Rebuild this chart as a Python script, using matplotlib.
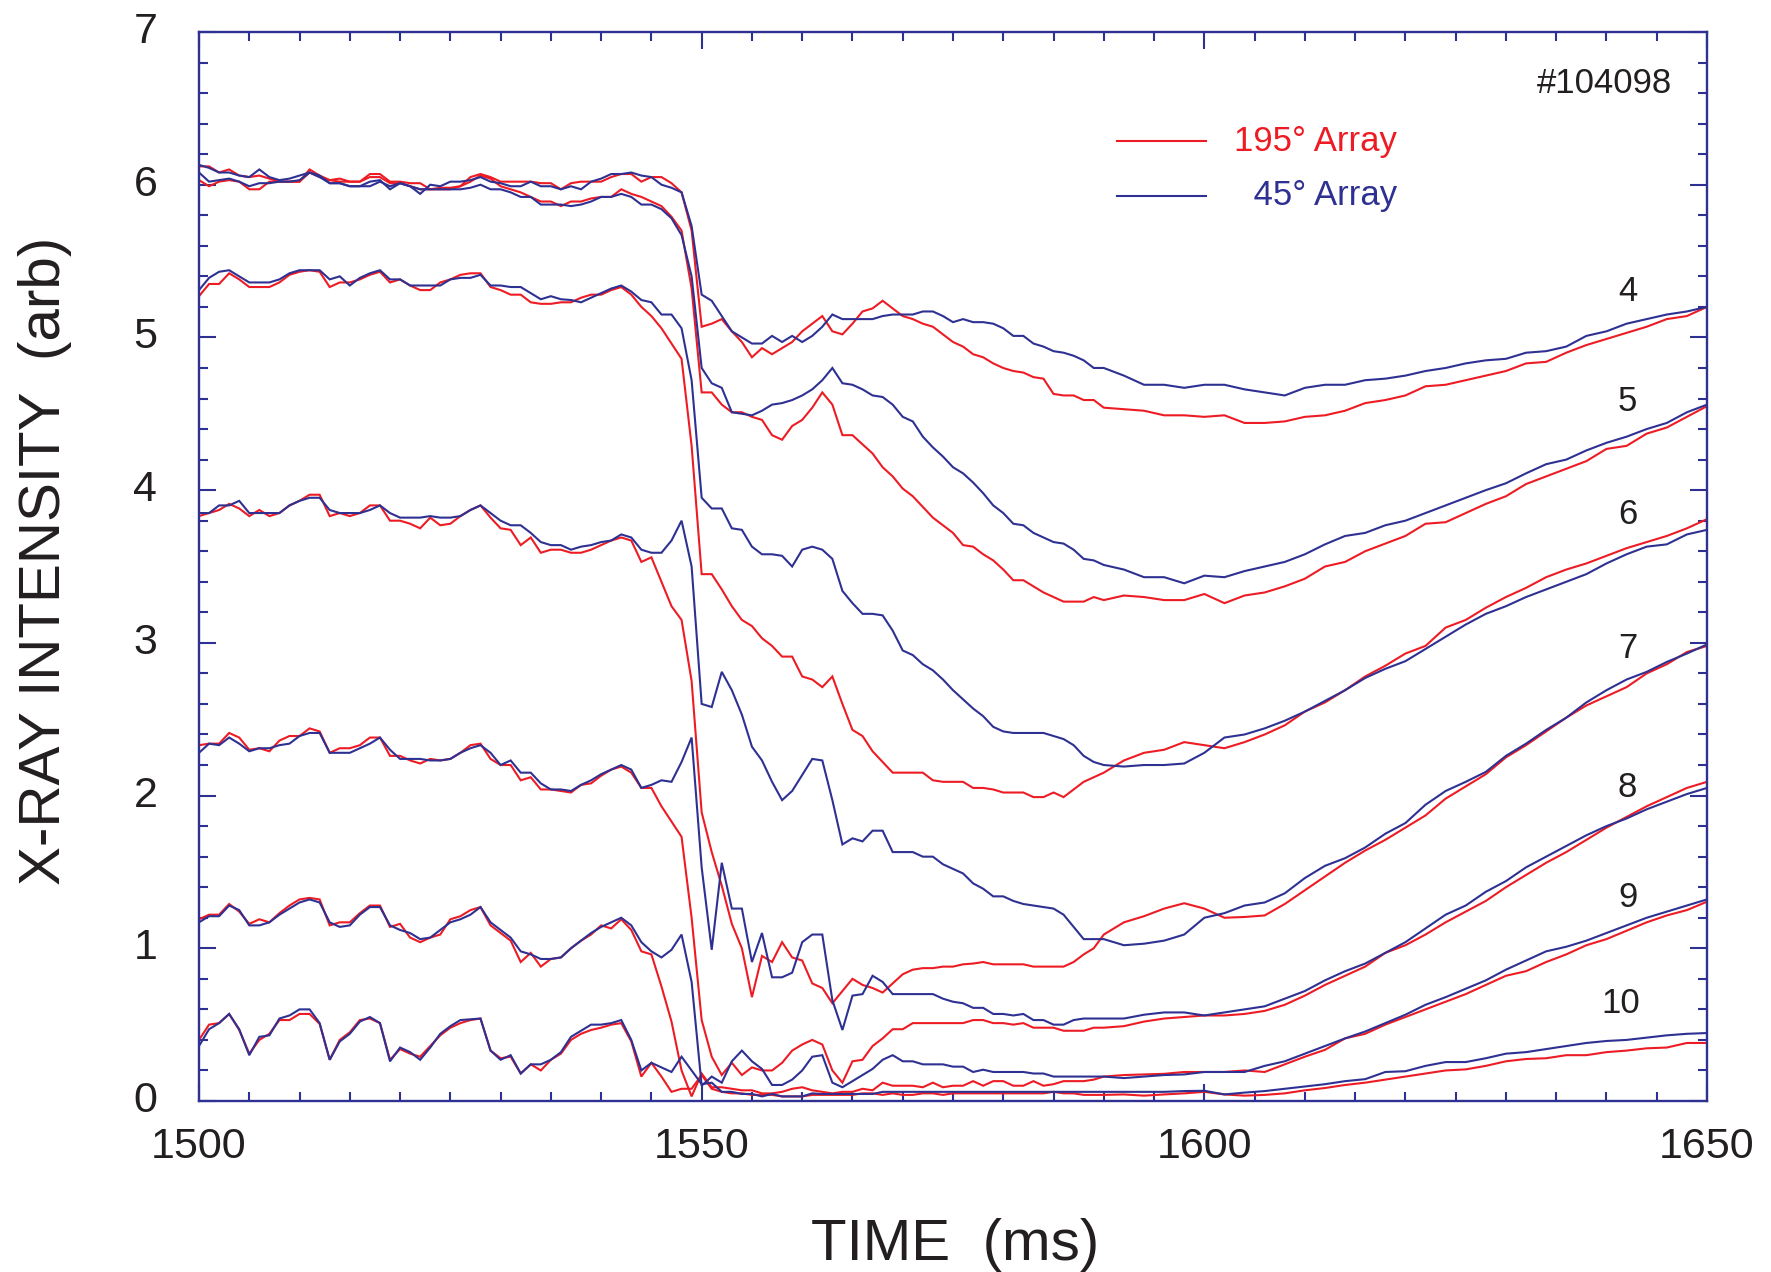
import matplotlib
matplotlib.use("Agg")
import matplotlib.pyplot as plt
from matplotlib.ticker import MultipleLocator

plt.rcParams['font.family'] = ['Liberation Sans', 'DejaVu Sans']

# ---------------- data ----------------
# sampling: 1 ms from 1500 to 1590, then 2 ms to 1650
time_ms = list(range(1500, 1591)) + list(range(1592, 1651, 2))

ch4_195 = [6.12, 6.12, 6.08, 6.10, 6.06, 6.05, 6.06, 6.04, 6.02, 6.02,
           6.02, 6.10, 6.06, 6.03, 6.04, 6.02, 6.02, 6.07, 6.07, 6.02,
           6.02, 6.01, 6.01, 5.97, 5.97, 5.97, 5.99, 6.05, 6.07, 6.05,
           6.02, 6.02, 6.02, 6.02, 6.01, 6.01, 5.97, 6.01, 6.02, 6.02,
           6.02, 6.05, 6.07, 6.07, 6.02, 6.05, 6.05, 6.01, 5.95, 5.70,
           5.07, 5.09, 5.12, 5.04, 4.97, 4.87, 4.93, 4.89, 4.93, 4.97,
           5.04, 5.09, 5.14, 5.04, 5.02, 5.09, 5.17, 5.19, 5.24, 5.19,
           5.14, 5.12, 5.09, 5.07, 5.02, 4.97, 4.94, 4.89, 4.87, 4.83,
           4.80, 4.78, 4.77, 4.74, 4.73, 4.63, 4.62, 4.62, 4.59, 4.59, 4.54,
           4.53, 4.52, 4.49, 4.49, 4.48, 4.49, 4.44, 4.44, 4.45, 4.48,
           4.49, 4.52, 4.57, 4.59, 4.62, 4.68, 4.69, 4.72, 4.75, 4.78,
           4.83, 4.84, 4.90, 4.95, 4.99, 5.03, 5.07, 5.12, 5.14, 5.20]
ch4_45 = [6.13, 6.11, 6.08, 6.08, 6.06, 6.05, 6.10, 6.05, 6.03, 6.04,
          6.06, 6.08, 6.06, 6.01, 6.01, 5.99, 5.99, 6.02, 6.03, 5.97,
          6.01, 5.99, 5.94, 6.00, 5.99, 6.02, 6.02, 6.03, 6.05, 6.02,
          6.01, 5.99, 5.99, 6.02, 5.99, 5.99, 5.97, 5.99, 5.97, 6.02,
          6.04, 6.07, 6.07, 6.08, 6.06, 6.05, 6.00, 5.98, 5.95, 5.73,
          5.28, 5.24, 5.14, 5.04, 5.00, 4.96, 4.96, 5.01, 4.97, 5.01,
          4.97, 5.01, 5.07, 5.15, 5.12, 5.12, 5.12, 5.12, 5.14, 5.15,
          5.15, 5.15, 5.17, 5.17, 5.14, 5.10, 5.12, 5.10, 5.10, 5.09,
          5.06, 5.01, 5.01, 4.96, 4.94, 4.91, 4.90, 4.88, 4.85, 4.80, 4.80,
          4.75, 4.69, 4.69, 4.67, 4.69, 4.69, 4.66, 4.64, 4.62, 4.67,
          4.69, 4.69, 4.72, 4.73, 4.75, 4.78, 4.80, 4.83, 4.85, 4.86,
          4.90, 4.91, 4.94, 5.01, 5.04, 5.09, 5.12, 5.15, 5.17, 5.20]

ch5_195 = [6.03, 5.99, 6.02, 6.03, 6.02, 5.97, 5.97, 6.02, 6.02, 6.02,
           6.02, 6.08, 6.05, 6.03, 6.02, 6.02, 6.02, 6.05, 6.05, 6.01,
           6.01, 5.99, 5.97, 5.97, 5.98, 5.98, 5.99, 6.02, 6.06, 6.04,
           5.99, 5.97, 5.95, 5.92, 5.89, 5.89, 5.86, 5.89, 5.89, 5.91,
           5.92, 5.92, 5.97, 5.94, 5.92, 5.89, 5.86, 5.79, 5.70, 5.32,
           4.64, 4.64, 4.56, 4.51, 4.51, 4.48, 4.46, 4.36, 4.33, 4.42,
           4.46, 4.54, 4.64, 4.56, 4.36, 4.36, 4.30, 4.24, 4.15, 4.09,
           4.01, 3.96, 3.89, 3.82, 3.77, 3.72, 3.64, 3.63, 3.58, 3.54,
           3.48, 3.41, 3.41, 3.37, 3.33, 3.30, 3.27, 3.27, 3.27, 3.30, 3.28,
           3.31, 3.30, 3.28, 3.28, 3.32, 3.26, 3.31, 3.33, 3.37, 3.42,
           3.50, 3.53, 3.60, 3.65, 3.70, 3.78, 3.79, 3.85, 3.91, 3.96,
           4.04, 4.09, 4.14, 4.19, 4.27, 4.29, 4.37, 4.41, 4.48, 4.55]
ch5_45 = [6.08, 6.02, 6.03, 6.04, 6.02, 5.99, 6.01, 6.01, 6.02, 6.02,
          6.03, 6.08, 6.05, 6.01, 6.01, 5.99, 5.99, 5.99, 6.02, 5.99,
          6.01, 5.99, 5.97, 5.97, 5.97, 5.97, 5.97, 5.98, 6.00, 5.97,
          5.97, 5.95, 5.92, 5.92, 5.87, 5.87, 5.87, 5.86, 5.87, 5.89,
          5.92, 5.92, 5.94, 5.92, 5.87, 5.87, 5.84, 5.78, 5.67, 5.40,
          4.80, 4.70, 4.67, 4.51, 4.50, 4.49, 4.52, 4.56, 4.57, 4.59,
          4.62, 4.66, 4.72, 4.80, 4.70, 4.69, 4.66, 4.62, 4.61, 4.56,
          4.48, 4.45, 4.35, 4.28, 4.22, 4.15, 4.11, 4.05, 3.98, 3.90,
          3.85, 3.78, 3.77, 3.72, 3.69, 3.66, 3.65, 3.61, 3.55, 3.54, 3.51,
          3.48, 3.43, 3.43, 3.39, 3.44, 3.43, 3.47, 3.50, 3.53, 3.58,
          3.645, 3.70, 3.72, 3.77, 3.80, 3.85, 3.90, 3.95, 4.00, 4.045,
          4.11, 4.17, 4.20, 4.26, 4.31, 4.35, 4.40, 4.44, 4.51, 4.56]

ch6_195 = [5.27, 5.35, 5.35, 5.42, 5.38, 5.33, 5.33, 5.33, 5.36, 5.41,
           5.43, 5.44, 5.43, 5.33, 5.36, 5.36, 5.38, 5.41, 5.43, 5.36,
           5.38, 5.34, 5.31, 5.31, 5.36, 5.38, 5.41, 5.42, 5.42, 5.33,
           5.31, 5.28, 5.28, 5.23, 5.22, 5.22, 5.23, 5.23, 5.26, 5.28,
           5.28, 5.31, 5.33, 5.28, 5.20, 5.14, 5.06, 4.96, 4.86, 4.29,
           3.45, 3.45, 3.35, 3.24, 3.15, 3.11, 3.03, 2.98, 2.91, 2.91,
           2.78, 2.76, 2.71, 2.78, 2.60, 2.43, 2.39, 2.29, 2.22, 2.15,
           2.15, 2.15, 2.15, 2.10, 2.09, 2.09, 2.09, 2.05, 2.05, 2.04,
           2.02, 2.02, 2.02, 1.99, 1.99, 2.02, 1.99, 2.04, 2.09, 2.12, 2.15,
           2.23, 2.28, 2.30, 2.35, 2.33, 2.31, 2.35, 2.40, 2.46, 2.55,
           2.61, 2.69, 2.78, 2.85, 2.93, 2.98, 3.10, 3.15, 3.23, 3.30,
           3.36, 3.43, 3.48, 3.52, 3.57, 3.62, 3.66, 3.70, 3.75, 3.81]
ch6_45 = [5.31, 5.39, 5.43, 5.44, 5.40, 5.36, 5.36, 5.36, 5.38, 5.42,
          5.44, 5.44, 5.44, 5.38, 5.40, 5.34, 5.39, 5.42, 5.44, 5.38,
          5.38, 5.34, 5.34, 5.34, 5.34, 5.38, 5.39, 5.39, 5.41, 5.34,
          5.34, 5.33, 5.33, 5.29, 5.25, 5.27, 5.25, 5.245, 5.23, 5.26,
          5.29, 5.32, 5.34, 5.30, 5.245, 5.23, 5.15, 5.15, 5.06, 4.72,
          3.95, 3.88, 3.88, 3.75, 3.74, 3.63, 3.58, 3.58, 3.57, 3.50,
          3.61, 3.63, 3.61, 3.55, 3.34, 3.26, 3.19, 3.19, 3.18, 3.08,
          2.95, 2.92, 2.86, 2.82, 2.76, 2.69, 2.63, 2.57, 2.52, 2.45,
          2.42, 2.41, 2.41, 2.41, 2.41, 2.39, 2.37, 2.33, 2.26, 2.22, 2.20,
          2.19, 2.20, 2.20, 2.21, 2.28, 2.38, 2.40, 2.44, 2.49, 2.55,
          2.62, 2.69, 2.77, 2.83, 2.88, 2.96, 3.04, 3.12, 3.19, 3.24,
          3.30, 3.35, 3.40, 3.45, 3.52, 3.58, 3.63, 3.645, 3.71, 3.74]

ch7_195 = [3.83, 3.85, 3.87, 3.91, 3.88, 3.83, 3.87, 3.83, 3.85, 3.90,
           3.93, 3.97, 3.97, 3.83, 3.85, 3.83, 3.85, 3.90, 3.90, 3.80,
           3.80, 3.78, 3.75, 3.82, 3.77, 3.78, 3.83, 3.87, 3.90, 3.82,
           3.75, 3.74, 3.64, 3.69, 3.59, 3.61, 3.61, 3.59, 3.59, 3.61,
           3.64, 3.67, 3.69, 3.67, 3.53, 3.56, 3.40, 3.24, 3.15, 2.75,
           1.89, 1.63, 1.41, 1.16, 1.00, 0.68, 0.95, 0.91, 1.04, 0.94,
           0.92, 0.77, 0.74, 0.64, 0.72, 0.80, 0.76, 0.74, 0.71, 0.77,
           0.83, 0.86, 0.87, 0.87, 0.88, 0.88, 0.895, 0.90, 0.91, 0.895,
           0.895, 0.895, 0.895, 0.88, 0.88, 0.88, 0.88, 0.91, 0.96, 1.00, 1.09,
           1.17, 1.21, 1.26, 1.295, 1.26, 1.20, 1.205, 1.215, 1.29, 1.38,
           1.47, 1.56, 1.64, 1.71, 1.79, 1.87, 1.98, 2.06, 2.14, 2.25,
           2.33, 2.42, 2.51, 2.59, 2.65, 2.71, 2.80, 2.86, 2.94, 2.98]
ch7_45 = [3.85, 3.85, 3.90, 3.90, 3.93, 3.85, 3.85, 3.85, 3.85, 3.90,
          3.93, 3.95, 3.95, 3.87, 3.85, 3.85, 3.85, 3.87, 3.90, 3.85,
          3.82, 3.82, 3.82, 3.83, 3.82, 3.82, 3.83, 3.87, 3.90, 3.85,
          3.80, 3.77, 3.77, 3.72, 3.66, 3.64, 3.64, 3.61, 3.63, 3.64,
          3.66, 3.67, 3.71, 3.69, 3.61, 3.59, 3.59, 3.67, 3.80, 3.50,
          2.60, 2.58, 2.81, 2.69, 2.53, 2.32, 2.23, 2.09, 1.97, 2.03,
          2.135, 2.24, 2.23, 1.97, 1.68, 1.72, 1.70, 1.77, 1.77, 1.63,
          1.63, 1.63, 1.60, 1.60, 1.55, 1.52, 1.49, 1.425, 1.39, 1.34,
          1.34, 1.31, 1.29, 1.28, 1.27, 1.26, 1.22, 1.14, 1.06, 1.06, 1.06,
          1.02, 1.03, 1.05, 1.09, 1.20, 1.23, 1.28, 1.30, 1.36, 1.46,
          1.54, 1.59, 1.66, 1.75, 1.82, 1.94, 2.03, 2.09, 2.155, 2.26,
          2.34, 2.43, 2.51, 2.61, 2.69, 2.76, 2.81, 2.875, 2.93, 2.99]

ch8_195 = [2.33, 2.34, 2.34, 2.41, 2.38, 2.30, 2.31, 2.29, 2.36, 2.39,
           2.39, 2.44, 2.42, 2.28, 2.31, 2.31, 2.33, 2.38, 2.38, 2.26,
           2.26, 2.23, 2.21, 2.24, 2.23, 2.24, 2.28, 2.33, 2.34, 2.24,
           2.20, 2.20, 2.10, 2.12, 2.04, 2.04, 2.03, 2.02, 2.07, 2.08,
           2.13, 2.17, 2.19, 2.15, 2.05, 2.05, 1.93, 1.83, 1.73, 1.20,
           0.53, 0.29, 0.17, 0.25, 0.17, 0.22, 0.20, 0.20, 0.25, 0.33,
           0.37, 0.40, 0.37, 0.20, 0.12, 0.26, 0.27, 0.36, 0.41, 0.47,
           0.47, 0.51, 0.51, 0.51, 0.51, 0.51, 0.51, 0.53, 0.53, 0.51,
           0.51, 0.50, 0.51, 0.48, 0.48, 0.48, 0.46, 0.46, 0.46, 0.48, 0.48,
           0.49, 0.52, 0.54, 0.55, 0.56, 0.56, 0.57, 0.59, 0.63, 0.69,
           0.76, 0.82, 0.88, 0.97, 1.02, 1.09, 1.17, 1.24, 1.31, 1.40,
           1.48, 1.56, 1.63, 1.71, 1.79, 1.86, 1.93, 1.99, 2.05, 2.09]
ch8_45 = [2.28, 2.34, 2.33, 2.38, 2.34, 2.29, 2.31, 2.31, 2.33, 2.34,
          2.39, 2.41, 2.41, 2.28, 2.28, 2.28, 2.31, 2.34, 2.38, 2.30,
          2.24, 2.24, 2.24, 2.23, 2.23, 2.24, 2.28, 2.31, 2.33, 2.28,
          2.20, 2.23, 2.15, 2.15, 2.08, 2.04, 2.04, 2.03, 2.07, 2.10,
          2.14, 2.17, 2.20, 2.17, 2.05, 2.07, 2.10, 2.09, 2.22, 2.38,
          1.53, 0.99, 1.56, 1.26, 1.26, 0.91, 1.10, 0.81, 0.81, 0.84,
          1.04, 1.09, 1.09, 0.66, 0.465, 0.69, 0.70, 0.82, 0.78, 0.70,
          0.70, 0.70, 0.70, 0.70, 0.67, 0.65, 0.64, 0.61, 0.61, 0.57,
          0.57, 0.56, 0.57, 0.53, 0.53, 0.50, 0.50, 0.53, 0.54, 0.54, 0.54,
          0.54, 0.565, 0.58, 0.58, 0.56, 0.58, 0.60, 0.62, 0.67, 0.72,
          0.79, 0.85, 0.90, 0.97, 1.04, 1.13, 1.22, 1.28, 1.37, 1.44,
          1.53, 1.60, 1.67, 1.74, 1.80, 1.85, 1.91, 1.96, 2.01, 2.05]

ch9_195 = [1.19, 1.22, 1.22, 1.29, 1.24, 1.16, 1.19, 1.17, 1.23, 1.28,
           1.32, 1.33, 1.32, 1.15, 1.17, 1.17, 1.23, 1.28, 1.28, 1.14,
           1.16, 1.07, 1.04, 1.07, 1.09, 1.19, 1.21, 1.25, 1.27, 1.15,
           1.10, 1.05, 0.91, 0.97, 0.88, 0.93, 0.94, 1.00, 1.05, 1.09,
           1.15, 1.13, 1.19, 1.12, 0.98, 0.96, 0.75, 0.52, 0.20, 0.03,
           0.18, 0.09, 0.09, 0.08, 0.07, 0.07, 0.05, 0.05, 0.06, 0.08,
           0.09, 0.07, 0.06, 0.05, 0.06, 0.06, 0.08, 0.07, 0.12, 0.10,
           0.10, 0.10, 0.09, 0.12, 0.09, 0.10, 0.10, 0.13, 0.10, 0.13,
           0.13, 0.10, 0.10, 0.13, 0.10, 0.11, 0.13, 0.13, 0.13, 0.14, 0.16,
           0.17, 0.174, 0.178, 0.19, 0.19, 0.19, 0.20, 0.19, 0.24, 0.29,
           0.335, 0.41, 0.44, 0.50, 0.55, 0.60, 0.65, 0.70, 0.76, 0.82,
           0.85, 0.91, 0.96, 1.02, 1.06, 1.115, 1.17, 1.215, 1.25, 1.305]
ch9_45 = [1.17, 1.21, 1.21, 1.28, 1.25, 1.15, 1.15, 1.17, 1.22, 1.26,
          1.30, 1.32, 1.30, 1.17, 1.14, 1.15, 1.22, 1.27, 1.27, 1.15,
          1.12, 1.10, 1.06, 1.07, 1.12, 1.17, 1.19, 1.22, 1.27, 1.17,
          1.12, 1.07, 0.98, 0.96, 0.93, 0.93, 0.94, 1.00, 1.05, 1.10,
          1.14, 1.17, 1.20, 1.15, 1.04, 0.98, 0.94, 0.99, 1.09, 0.78,
          0.10, 0.16, 0.12, 0.26, 0.33, 0.26, 0.21, 0.105, 0.105, 0.14,
          0.20, 0.29, 0.30, 0.12, 0.09, 0.13, 0.17, 0.21, 0.27, 0.30,
          0.26, 0.26, 0.24, 0.24, 0.24, 0.225, 0.225, 0.19, 0.205, 0.19,
          0.19, 0.19, 0.19, 0.18, 0.18, 0.16, 0.16, 0.16, 0.16, 0.16, 0.16,
          0.15, 0.16, 0.17, 0.174, 0.19, 0.19, 0.19, 0.23, 0.26, 0.31,
          0.36, 0.41, 0.455, 0.51, 0.565, 0.63, 0.68, 0.735, 0.79, 0.86,
          0.92, 0.98, 1.01, 1.05, 1.10, 1.15, 1.20, 1.24, 1.28, 1.32]

ch10_195 = [0.40, 0.50, 0.51, 0.57, 0.465, 0.31, 0.40, 0.44, 0.53, 0.53,
            0.57, 0.57, 0.505, 0.27, 0.40, 0.45, 0.53, 0.54, 0.51, 0.27,
            0.34, 0.31, 0.29, 0.36, 0.43, 0.48, 0.51, 0.53, 0.54, 0.33,
            0.28, 0.29, 0.18, 0.24, 0.20, 0.27, 0.31, 0.40, 0.44, 0.465,
            0.48, 0.50, 0.51, 0.39, 0.16, 0.25, 0.16, 0.06, 0.08, 0.08,
            0.17, 0.08, 0.06, 0.05, 0.05, 0.04, 0.04, 0.04, 0.03, 0.03,
            0.03, 0.04, 0.04, 0.04, 0.04, 0.04, 0.05, 0.05, 0.04, 0.05,
            0.04, 0.04, 0.05, 0.05, 0.04, 0.05, 0.05, 0.05, 0.05, 0.05,
            0.05, 0.05, 0.05, 0.05, 0.05, 0.06, 0.05, 0.05, 0.04, 0.04, 0.04,
            0.043, 0.035, 0.043, 0.05, 0.06, 0.043, 0.035, 0.04, 0.05, 0.07,
            0.085, 0.105, 0.12, 0.14, 0.16, 0.18, 0.20, 0.207, 0.23, 0.26,
            0.275, 0.28, 0.30, 0.30, 0.32, 0.33, 0.345, 0.35, 0.38, 0.38]
ch10_45 = [0.36, 0.47, 0.51, 0.57, 0.47, 0.30, 0.42, 0.43, 0.54, 0.56,
           0.60, 0.60, 0.51, 0.27, 0.39, 0.44, 0.52, 0.55, 0.51, 0.26,
           0.35, 0.32, 0.27, 0.35, 0.44, 0.49, 0.53, 0.535, 0.54, 0.33,
           0.27, 0.30, 0.18, 0.24, 0.24, 0.27, 0.32, 0.42, 0.46, 0.50,
           0.50, 0.51, 0.53, 0.40, 0.20, 0.25, 0.22, 0.19, 0.29, 0.20,
           0.11, 0.12, 0.06, 0.06, 0.046, 0.046, 0.03, 0.046, 0.03, 0.03,
           0.03, 0.05, 0.046, 0.046, 0.046, 0.046, 0.046, 0.046, 0.06, 0.06,
           0.06, 0.06, 0.06, 0.06, 0.06, 0.06, 0.06, 0.06, 0.06, 0.06,
           0.06, 0.06, 0.06, 0.06, 0.06, 0.06, 0.06, 0.06, 0.06, 0.06, 0.06,
           0.06, 0.06, 0.06, 0.065, 0.067, 0.043, 0.055, 0.065, 0.08, 0.095,
           0.11, 0.13, 0.143, 0.19, 0.195, 0.23, 0.255, 0.255, 0.28, 0.31,
           0.32, 0.34, 0.36, 0.38, 0.393, 0.40, 0.415, 0.43, 0.44, 0.445]

channel_names = ["4", "5", "6", "7", "8", "9", "10"]
series_195 = [ch4_195, ch5_195, ch6_195, ch7_195, ch8_195, ch9_195, ch10_195]
series_45 = [ch4_45, ch5_45, ch6_45, ch7_45, ch8_45, ch9_45, ch10_45]
legend_labels = ["195\u00b0 Array", " 45\u00b0 Array"]
shot_label = "#104098"
x_ticks = [1500, 1550, 1600, 1650]
y_ticks = [0, 1, 2, 3, 4, 5, 6, 7]

# ---------------- styling ----------------
RED = "#ed1c24"
BLUE = "#2e3192"
TXT = "#231f20"

fig = plt.figure(figsize=(17.71, 12.72), dpi=100)
ax = fig.add_axes([199 / 1771, 1 - 1101 / 1272, 1508 / 1771, 1069 / 1272])

for vals in series_195:
    ax.plot(time_ms, vals, color=RED, lw=1.5, solid_joinstyle='miter')
for vals in series_45:
    ax.plot(time_ms, vals, color=BLUE, lw=1.5, solid_joinstyle='miter')

ax.set_xlim(1500, 1650)
ax.set_ylim(0, 7)
ax.set_xticks(x_ticks)
ax.set_yticks(y_ticks)
ax.xaxis.set_minor_locator(MultipleLocator(5))
ax.yaxis.set_minor_locator(MultipleLocator(0.2))

for sp in ax.spines.values():
    sp.set_color(BLUE)
    sp.set_linewidth(1.7)

ax.tick_params(which='both', direction='in', top=True, right=True,
               color=BLUE, width=1.5, labelcolor=TXT, labelsize=31)
ax.tick_params(which='major', length=12)
ax.tick_params(which='minor', length=6.5)
ax.tick_params(axis='x', which='major', pad=19)
ax.tick_params(axis='y', which='major', pad=30)
for lab in ax.get_yticklabels():
    lab.set_verticalalignment('center')

# axis titles
fig.text(955 / 1771, 1 - 1260 / 1272, "TIME  (ms)", ha='center', va='baseline',
         fontsize=42, color=TXT)
fig.text(60 / 1771, 1 - 561 / 1272, "X-RAY INTENSITY  (arb)", rotation=90,
         rotation_mode='anchor', ha='center', va='baseline', fontsize=42, color=TXT)

# legend (manual, right-aligned text)
ax.plot([0.609, 0.668], [0.898, 0.898], transform=ax.transAxes, color=RED, lw=1.5)
ax.plot([0.609, 0.668], [0.847, 0.847], transform=ax.transAxes, color=BLUE, lw=1.5)
ax.text(0.7944, 0.898, legend_labels[0], transform=ax.transAxes, ha='right',
        va='center', fontsize=25, color=RED)
ax.text(0.7944, 0.847, legend_labels[1], transform=ax.transAxes, ha='right',
        va='center', fontsize=25, color=BLUE)
ax.text(0.9768, 0.9517, shot_label, transform=ax.transAxes, ha='right',
        va='center', fontsize=25, color=TXT)

# channel labels near the right edge
label_x = [1642.1, 1642.1, 1642.1, 1642.1, 1642.1, 1642.1, 1641.4]
label_y = [5.30, 4.58, 3.84, 2.96, 2.05, 1.33, 0.64]
for name, lx, ly in zip(channel_names, label_x, label_y):
    ax.text(lx, ly, name, ha='center', va='center', fontsize=25, color=TXT)

fig.savefig("out.png", dpi=100)
